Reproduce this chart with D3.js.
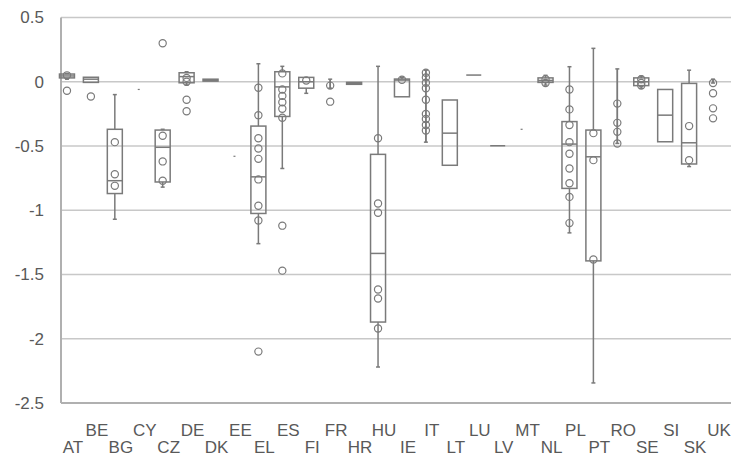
<!DOCTYPE html>
<html>
<head>
<meta charset="utf-8">
<script src="https://cdn.jsdelivr.net/npm/d3@7"></script>
<style>
  body { margin: 0; background: #fff; }
  svg { display: block; font-family: "Liberation Sans", Arial, sans-serif; }
</style>
</head>
<body>
<div id="chart"></div>
<script>
// one entry per country, null where the picture shows nothing
var countries = ["AT","BE","BG","CY","CZ","DE","DK","EE","EL","ES","FI","FR","HR","HU",
                 "IE","IT","LT","LU","LV","MT","NL","PL","PT","RO","SE","SI","SK","UK"];
var whiskerLow  = [0.02, null, -1.07, null, -0.82, -0.026, null, null, -1.26, -0.675, -0.09, -0.05, null, -2.22,
                   null, -0.47, null, null, null, null, -0.026, -1.176, -2.344, -0.48, -0.05, null, -0.66, -0.01];
var boxLow      = [0.03, -0.005, -0.87, null, -0.78, -0.008, 0.005, null, -1.025, -0.27, -0.05, null, -0.02, -1.87,
                   -0.117, null, -0.65, 0.052, -0.498, null, -0.005, -0.83, -1.394, null, -0.03, -0.467, -0.64, null];
var medians     = [0.045, 0.02, -0.77, null, -0.51, 0.04, 0.013, null, -0.74, -0.04, 0.0, null, -0.013, -1.336,
                   0.013, null, -0.40, 0.052, -0.498, null, 0.01, -0.485, -0.584, null, 0.0, -0.26, -0.475, null];
var boxHigh     = [0.06, 0.035, -0.37, null, -0.376, 0.07, 0.02, null, -0.345, 0.078, 0.034, null, -0.005, -0.565,
                   0.021, null, -0.142, 0.052, -0.498, null, 0.03, -0.31, -0.376, null, 0.03, -0.06, -0.013, null];
var whiskerHigh = [0.065, null, -0.10, null, -0.37, 0.078, null, null, 0.14, 0.12, null, 0.02, null, 0.12,
                   0.034, 0.09, null, null, null, null, 0.05, 0.117, 0.26, 0.10, 0.044, null, 0.09, 0.02];
var points = [
  [0.05, -0.07],                                               // AT
  [-0.115],                                                    // BE
  [-0.47, -0.72, -0.81],                                       // BG
  [],                                                          // CY
  [0.30, -0.42, -0.62, -0.77],                                 // CZ
  [0.03, 0.0, -0.14, -0.23],                                   // DE
  [],                                                          // DK
  [],                                                          // EE
  [-0.047, -0.26, -0.44, -0.52, -0.60, -0.76, -0.965, -1.08, -2.10], // EL
  [0.065, -0.06, -0.11, -0.16, -0.21, -0.28, -1.12, -1.47],    // ES
  [0.01],                                                      // FI
  [-0.03, -0.155],                                             // FR
  [],                                                          // HR
  [-0.44, -0.947, -1.02, -1.617, -1.687, -1.92],               // HU
  [0.015],                                                     // IE
  [0.07, 0.034, -0.008, -0.05, -0.14, -0.25, -0.29, -0.337, -0.38], // IT
  [],                                                          // LT
  [],                                                          // LU
  [],                                                          // LV
  [],                                                          // MT
  [0.02, -0.01],                                               // NL
  [-0.06, -0.215, -0.337, -0.47, -0.56, -0.675, -0.79, -0.896, -1.10], // PL
  [-0.40, -0.61, -1.383],                                      // PT
  [-0.17, -0.32, -0.39, -0.48],                                // RO
  [0.02, -0.01, -0.03],                                        // SE
  [],                                                          // SI
  [-0.345, -0.61],                                             // SK
  [-0.01, -0.09, -0.207, -0.285]                               // UK
];
// countries with a single value, drawn as a tiny dash
var singles = [null, null, null, -0.06, null, null, null, -0.58, null, null, null, null, null, null,
               null, null, null, null, null, -0.37, null, null, null, null, null, null, null, null];
var yTicks = [0.5, 0, -0.5, -1, -1.5, -2, -2.5];

var W = 738, H = 459;
var margin = {top: 17.5, right: 7, bottom: 56, left: 61};
var width = W - margin.left - margin.right,
    height = H - margin.top - margin.bottom;

var svg = d3.select("#chart").append("svg")
    .attr("width", W)
    .attr("height", H)
  .append("g")
    .attr("transform", "translate(" + margin.left + "," + margin.top + ")");

var x = d3.scaleBand().domain(countries).range([0, width]);
var y = d3.scaleLinear().domain([-2.5, 0.5]).range([height, 0]);
var shift = -6;       // marks sit a little left of the label centres
var boxW = 15, capW = 4, r = 3.6;
var cx = function(i) { return x(countries[i]) + x.bandwidth() / 2 + shift; };

// gridlines
svg.append("g").selectAll("line")
  .data(yTicks.slice(0, -1)).enter()
  .append("line")
    .attr("x1", 0).attr("x2", width)
    .attr("y1", y).attr("y2", y)
    .style("stroke", "#c8c8c8").style("stroke-width", 1.4);

// axis lines
svg.append("line")
    .attr("x1", 0).attr("x2", width).attr("y1", height).attr("y2", height)
    .style("stroke", "#b0b0b0").style("stroke-width", 2);
svg.append("line")
    .attr("x1", 0).attr("x2", 0).attr("y1", 0).attr("y2", height)
    .style("stroke", "#b0b0b0").style("stroke-width", 2);

// y labels
var yAxis = svg.append("g")
    .call(d3.axisLeft(y).tickValues(yTicks).tickSize(0).tickPadding(17)
      .tickFormat(function(d) { return String(d); }));
yAxis.select(".domain").remove();
yAxis.selectAll("text")
    .style("font-size", "17px").style("fill", "#595959")
    .style("font-family", "'Liberation Sans', Arial, sans-serif");

// x labels, alternating rows
var xAxis = svg.append("g")
    .attr("transform", "translate(0," + height + ")")
    .call(d3.axisBottom(x).tickSize(0));
xAxis.select(".domain").remove();
xAxis.selectAll("text")
    .attr("dy", 0)
    .attr("y", function(d, i) { return i % 2 ? 33 : 50; })
    .style("font-size", "17px").style("fill", "#595959")
    .style("font-family", "'Liberation Sans', Arial, sans-serif");

var marks = svg.append("g")
    .style("stroke", "#7a7a7a").style("fill", "none");

countries.forEach(function(c, i) {
  var px = cx(i);
  var lo = whiskerLow[i], hi = whiskerHigh[i];
  var top = boxHigh[i], bot = boxLow[i];

  // whiskers
  if (hi != null) {
    var from = top != null ? top : (lo != null ? lo : hi);
    marks.append("line").attr("x1", px).attr("x2", px)
      .attr("y1", y(hi)).attr("y2", y(from)).style("stroke-width", 1.5);
    marks.append("line").attr("x1", px - capW / 2).attr("x2", px + capW / 2)
      .attr("y1", y(hi)).attr("y2", y(hi)).style("stroke-width", 1.5);
  }
  if (lo != null) {
    var from2 = bot != null ? bot : (hi != null ? hi : lo);
    marks.append("line").attr("x1", px).attr("x2", px)
      .attr("y1", y(lo)).attr("y2", y(from2)).style("stroke-width", 1.5);
    marks.append("line").attr("x1", px - capW / 2).attr("x2", px + capW / 2)
      .attr("y1", y(lo)).attr("y2", y(lo)).style("stroke-width", 1.5);
  }

  // box
  if (top != null) {
    var h = y(bot) - y(top);
    if (h < 0.5) {
      marks.append("line").attr("x1", px - boxW / 2).attr("x2", px + boxW / 2)
        .attr("y1", y(top)).attr("y2", y(top)).style("stroke-width", 1.5);
    } else {
      marks.append("rect")
        .attr("x", px - boxW / 2).attr("y", y(top))
        .attr("width", boxW).attr("height", h)
        .style("stroke-width", 1.5).style("fill", h < 3 ? "#7a7a7a" : "none");
      marks.append("line").attr("x1", px - boxW / 2).attr("x2", px + boxW / 2)
        .attr("y1", y(medians[i])).attr("y2", y(medians[i])).style("stroke-width", 1.5);
    }
  }

  // individual values
  marks.selectAll(null)
    .data(points[i]).enter()
    .append("circle")
      .attr("cx", px).attr("cy", function(d) { return y(d); })
      .attr("r", r).style("stroke-width", 1.2);

  if (singles[i] != null) {
    marks.append("line").attr("x1", px - 1).attr("x2", px + 1)
      .attr("y1", y(singles[i])).attr("y2", y(singles[i])).style("stroke-width", 1.2);
  }
});
</script>
</body>
</html>
